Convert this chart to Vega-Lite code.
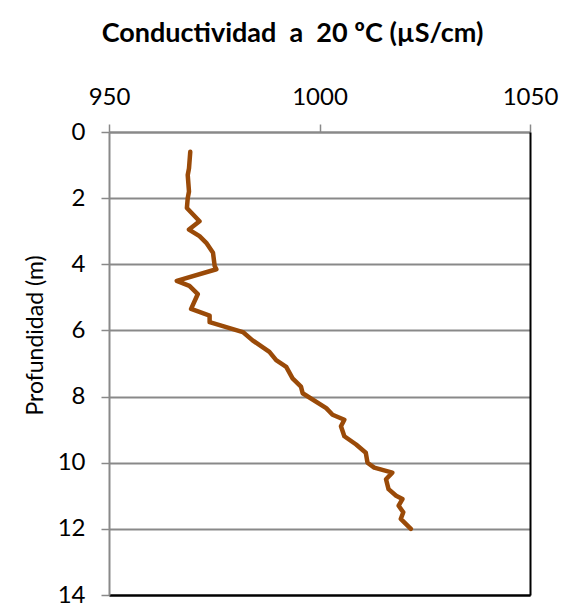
{
  "$schema": "https://vega.github.io/schema/vega-lite/v6.json",
  "width": 421,
  "height": 463,
  "autosize": {"type": "none"},
  "padding": {"left": 109, "top": 132, "right": 39, "bottom": 13},
  "background": "white",
  "title": {
    "text": "Conductividad\u00a0 a\u00a0 20 ºC (µS/cm)",
    "font": "Lato",
    "fontSize": 27,
    "fontWeight": "bold",
    "color": "black",
    "anchor": "middle",
    "dx": -27,
    "offset": 37
  },
  "data": {
    "values": [
      {"d": 0.6, "c": 969.3},
      {"d": 1.1, "c": 969.0},
      {"d": 1.3, "c": 968.7},
      {"d": 1.8, "c": 969.0},
      {"d": 2.0, "c": 968.7},
      {"d": 2.3, "c": 968.5},
      {"d": 2.7, "c": 971.5},
      {"d": 2.95, "c": 969.0},
      {"d": 3.15, "c": 971.5},
      {"d": 3.35, "c": 973.1},
      {"d": 3.65, "c": 974.7},
      {"d": 4.05, "c": 975.1},
      {"d": 4.15, "c": 975.5},
      {"d": 4.5, "c": 966.1},
      {"d": 4.65, "c": 969.1},
      {"d": 4.9, "c": 971.1},
      {"d": 5.35, "c": 969.5},
      {"d": 5.55, "c": 973.9},
      {"d": 5.75, "c": 973.9},
      {"d": 6.05, "c": 981.8},
      {"d": 6.3, "c": 984.1},
      {"d": 6.65, "c": 988.1},
      {"d": 6.9, "c": 989.7},
      {"d": 7.1, "c": 992.1},
      {"d": 7.45, "c": 993.6},
      {"d": 7.7, "c": 995.6},
      {"d": 7.9, "c": 996.0},
      {"d": 8.35, "c": 1001.6},
      {"d": 8.55, "c": 1003.1},
      {"d": 8.7, "c": 1005.9},
      {"d": 8.9, "c": 1005.1},
      {"d": 9.2, "c": 1005.9},
      {"d": 9.45, "c": 1008.7},
      {"d": 9.7, "c": 1011.0},
      {"d": 10.0, "c": 1011.4},
      {"d": 10.15, "c": 1013.0},
      {"d": 10.3, "c": 1017.3},
      {"d": 10.5, "c": 1015.8},
      {"d": 10.8, "c": 1016.4},
      {"d": 11.0, "c": 1018.2},
      {"d": 11.1, "c": 1019.7},
      {"d": 11.3, "c": 1018.8},
      {"d": 11.5, "c": 1019.9},
      {"d": 11.7, "c": 1019.3},
      {"d": 12.0, "c": 1021.7}
    ]
  },
  "layer": [
    {
      "mark": {"type": "line", "strokeOpacity": 0},
      "encoding": {
        "x": {
          "field": "c", "type": "quantitative",
          "scale": {"domain": [950, 1050], "zero": false, "nice": false},
          "axis": {"orient": "bottom", "labels": false, "ticks": false, "grid": false, "title": null, "domainColor": "black", "domainWidth": 2}
        },
        "y": {
          "field": "d", "type": "quantitative",
          "scale": {"domain": [0, 14], "reverse": true, "nice": false},
          "axis": {"orient": "right", "labels": false, "ticks": false, "grid": false, "title": null, "domainColor": "black", "domainWidth": 2}
        },
        "order": {"field": "d", "type": "quantitative"}
      }
    },
    {
      "mark": {"type": "line", "color": "#9A4A08", "strokeWidth": 4.5, "strokeJoin": "round", "strokeCap": "round"},
      "encoding": {
        "x": {
          "field": "c", "type": "quantitative",
          "scale": {"domain": [950, 1050], "zero": false, "nice": false},
          "axis": {
            "orient": "top", "values": [950, 1000, 1050], "format": "d", "grid": false, "title": null,
            "labelFlush": false, "labelPadding": 15, "tickSize": 8
          }
        },
        "y": {
          "field": "d", "type": "quantitative",
          "scale": {"domain": [0, 14], "reverse": true, "nice": false},
          "axis": {
            "orient": "left", "values": [0, 2, 4, 6, 8, 10, 12, 14], "format": "d", "grid": true,
            "gridColor": {"condition": {"test": "datum.value == 14", "value": "black"}, "value": "#898989"},
            "gridWidth": 2,
            "title": "Profundidad (m)", "titlePadding": 10, "titleY": 203,
            "labelPadding": 16, "tickSize": 8
          }
        },
        "order": {"field": "d", "type": "quantitative"}
      }
    }
  ],
  "resolve": {"axis": {"x": "independent", "y": "independent"}},
  "config": {
    "font": "Lato",
    "view": {"stroke": null},
    "axis": {
      "labelFont": "Lato",
      "labelFontSize": 24,
      "labelColor": "black",
      "titleFont": "Lato",
      "titleFontSize": 23,
      "titleFontWeight": "normal",
      "titleColor": "black",
      "domainColor": "#898989",
      "domainWidth": 2,
      "tickColor": "#898989",
      "tickWidth": 1.5
    }
  }
}
